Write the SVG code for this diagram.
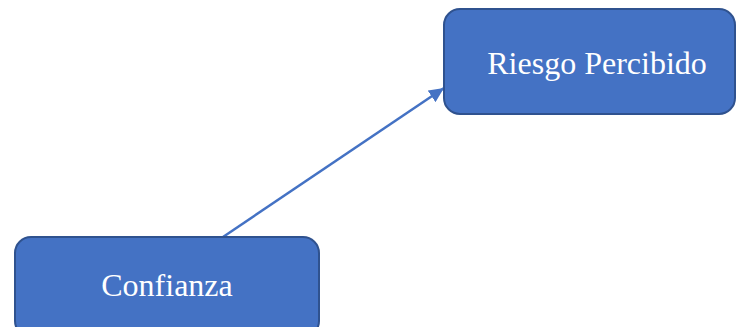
<svg xmlns="http://www.w3.org/2000/svg" width="737" height="327" viewBox="0 0 737 327">
<style>
.box{fill:#4472C4;stroke:#2F528F;stroke-width:2}
.lbl{font-family:"Liberation Serif","Times New Roman",serif;font-size:32px;fill:#FFFFFF;text-anchor:middle}
.conn{stroke:#4472C4;stroke-width:2.5;fill:none}
</style>
<defs>
<marker id="ah" markerUnits="userSpaceOnUse" markerWidth="16" markerHeight="14" refX="15" refY="7" orient="auto">
<path d="M0,0 L15,7 L0,14 Z" fill="#4472C4"/>
</marker>
</defs>
<g id="connectors">
<line class="conn" x1="223" y1="237" x2="444" y2="88" marker-end="url(#ah)"/>
</g>
<g id="riesgo">
<rect class="box" x="444" y="9" width="291" height="105" rx="16"/>
<text class="lbl" x="597" y="74">Riesgo Percibido</text>
</g>
<g id="confianza">
<rect class="box" x="15" y="237" width="304" height="100" rx="16"/>
<text class="lbl" x="167" y="296">Confianza</text>
</g>
</svg>
